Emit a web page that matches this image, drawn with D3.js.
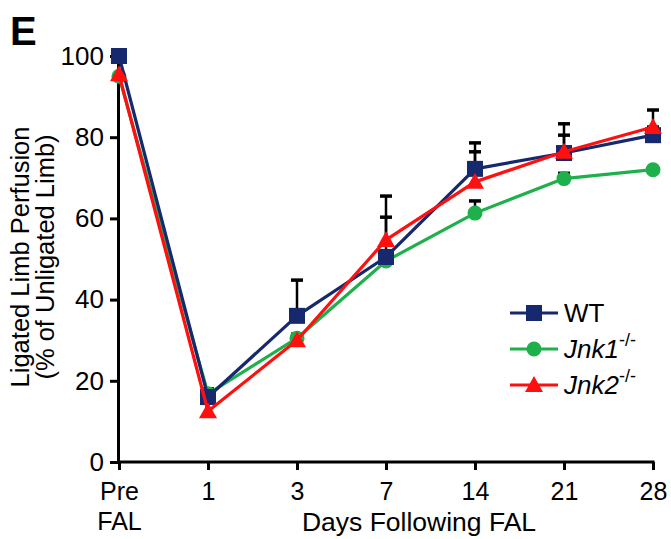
<!DOCTYPE html>
<html>
<head>
<meta charset="utf-8">
<script src="https://cdn.jsdelivr.net/npm/d3@7"></script>
<style>
  html, body { margin: 0; padding: 0; background: #fff; }
  svg { display: block; font-family: Arial, "Liberation Sans", Helvetica, sans-serif; }
</style>
</head>
<body>
<svg id="chart" width="671" height="539"></svg>
<script>
const categories = ["Pre FAL", "1", "3", "7", "14", "21", "28"];
const wtValues   = [100, 16, 36, 50.5, 72.2, 76.1, 80.5];
const wtErr      = [1.5, 2, 8.8, 15, 6.4, 7.2, 2];
const jnk1Values = [95, 16.8, 30.5, 49.5, 61.3, 69.8, 72];
const jnk1Err    = [null, 1, 1, 1, 3, 1.3, null];
const jnk2Values = [95.5, 12.5, 30, 54.7, 69, 76.4, 82.5];
const jnk2Err    = [null, null, null, 5.6, 7.4, 4.1, 4.2];
const yTicks = [0, 20, 40, 60, 80, 100];
const yTitle = ["Ligated Limb Perfusion", "(% of Unligated Limb)"];
const xTitle = "Days Following FAL";
const panelLetter = "E";

const series = [
  { name: "Jnk1", sup: "-/-", italic: true, values: jnk1Values, err: jnk1Err, color: "#1fb04c", shape: "circle" },
  { name: "WT", sup: "", italic: false, values: wtValues, err: wtErr, color: "#16296e", shape: "square" },
  { name: "Jnk2", sup: "-/-", italic: true, values: jnk2Values, err: jnk2Err, color: "#ff1010", shape: "triangle" }
];
const legendOrder = ["WT", "Jnk1", "Jnk2"];

const svg = d3.select("#chart");
const x = d3.scalePoint().domain(categories).range([119, 653]);
const y = d3.scaleLinear().domain([0, 100]).range([462, 56]);

// Panel letter
svg.append("text").attr("x", 10).attr("y", 45)
  .attr("font-size", 40).attr("font-weight", "bold").attr("fill", "#000")
  .text(panelLetter);

// Y axis
const yAxis = svg.append("g").attr("transform", "translate(118,0)")
  .call(d3.axisLeft(y).tickValues(yTicks).tickSize(8).tickSizeOuter(0).tickPadding(6));
yAxis.select(".domain").attr("stroke", "#000").attr("stroke-width", 3);
yAxis.selectAll(".tick line").attr("stroke", "#000").attr("stroke-width", 3);
yAxis.selectAll(".tick text").attr("font-size", 26).attr("fill", "#000")
  .attr("font-family", "Arial, 'Liberation Sans', sans-serif");

// X axis
const xAxis = svg.append("g").attr("transform", "translate(0,462)")
  .call(d3.axisBottom(x).tickSize(8).tickSizeOuter(0).tickFormat(""));
xAxis.select(".domain").attr("stroke", "#000").attr("stroke-width", 3)
  .attr("d", `M${x(categories[0]) - 1.5},0H${x(categories[categories.length - 1]) + 1.5}`);
xAxis.selectAll(".tick line").attr("stroke", "#000").attr("stroke-width", 3);
xAxis.selectAll(".tick").each(function(d) {
  const parts = d.split(" ");
  const t = d3.select(this).append("text").attr("fill", "#000")
    .attr("font-size", 25).attr("text-anchor", "middle").attr("y", 38);
  parts.forEach((p, i) => {
    t.append("tspan").attr("x", 0).attr("dy", i === 0 ? 0 : 30).text(p);
  });
});

// Axis titles
svg.append("text").attr("x", 419).attr("y", 531).attr("text-anchor", "middle")
  .attr("font-size", 26.5).attr("fill", "#000").text(xTitle);
yTitle.forEach((t, i) => {
  svg.append("text")
    .attr("transform", `translate(${29 + i * 25},257) rotate(-90)`)
    .attr("text-anchor", "middle").attr("font-size", 25.5).attr("fill", "#000").text(t);
});

// Error bars (upper only)
const errG = svg.append("g");
series.forEach(s => {
  s.values.forEach((v, i) => {
    const e = s.err[i];
    if (e == null) return;
    const cx = x(categories[i]);
    errG.append("line").attr("x1", cx).attr("x2", cx).attr("y1", y(v)).attr("y2", y(v + e))
      .attr("stroke", "#000").attr("stroke-width", 2.5);
    errG.append("line").attr("x1", cx - 6).attr("x2", cx + 6).attr("y1", y(v + e)).attr("y2", y(v + e))
      .attr("stroke", "#000").attr("stroke-width", 3.5);
  });
});

function drawMarker(g, shape, cx, cy, color) {
  if (shape === "square") {
    g.append("rect").attr("x", cx - 8).attr("y", cy - 8).attr("width", 16).attr("height", 16).attr("fill", color);
  } else if (shape === "circle") {
    g.append("circle").attr("cx", cx).attr("cy", cy).attr("r", 7.5).attr("fill", color);
  } else {
    g.append("path").attr("d", `M${cx},${cy - 9}L${cx + 9},${cy + 7}L${cx - 9},${cy + 7}Z`).attr("fill", color);
  }
}

const line = d3.line().x((d, i) => x(categories[i])).y(d => y(d));
series.forEach(s => {
  const g = svg.append("g");
  g.append("path").datum(s.values).attr("d", line).attr("fill", "none")
    .attr("stroke", s.color).attr("stroke-width", 3.2).attr("stroke-linejoin", "round");
  s.values.forEach((v, i) => drawMarker(g, s.shape, x(categories[i]), y(v), s.color));
});

// Legend
const legend = svg.append("g");
legendOrder.forEach((name, i) => {
  const s = series.find(d => d.name === name);
  const ly = 313 + i * 36;
  legend.append("line").attr("x1", 510).attr("x2", 558).attr("y1", ly).attr("y2", ly)
    .attr("stroke", s.color).attr("stroke-width", 3.2);
  drawMarker(legend, s.shape, 534, ly, s.color);
  const t = legend.append("text").attr("x", 564).attr("y", ly + 9).attr("font-size", 26).attr("fill", "#000");
  t.append("tspan").attr("font-style", s.italic ? "italic" : "normal").text(s.name);
  if (s.sup) {
    t.append("tspan").attr("font-size", 18).attr("dy", -12).text(s.sup);
  }
});
</script>
</body>
</html>
